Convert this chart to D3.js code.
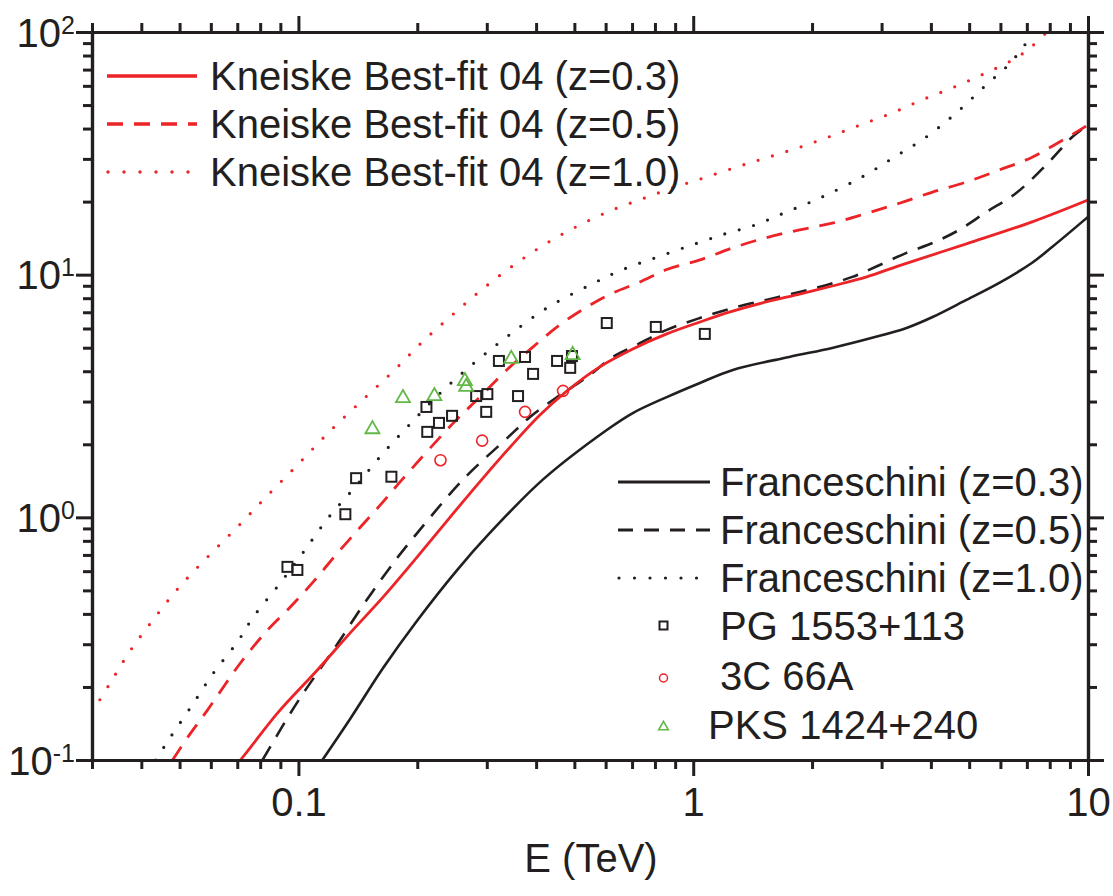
<!DOCTYPE html>
<html>
<head>
<meta charset="utf-8">
<script src="https://cdn.jsdelivr.net/npm/d3@7"></script>
<style>
body { margin: 0; background: #fff; }
text { font-family: "Liberation Sans", Arial, sans-serif; fill: #231f20; }
</style>
</head>
<body>
<div id="chart"></div>
<script>
// curves: [E (TeV), value]
var kneiske03 = [[0.0713,0.100],[0.0757,0.113],[0.0885,0.156],[0.1117,0.235],[0.1353,0.334],[0.164,0.470],[0.200,0.687],[0.242,1.00],[0.288,1.40],[0.344,1.95],[0.409,2.64],[0.479,3.32],[0.580,4.17],[0.703,4.94],[0.857,5.70],[1.04,6.38],[1.24,7.02],[1.53,7.72],[1.86,8.32],[2.25,8.98],[2.75,9.79],[3.33,10.9],[4.92,13.4],[7.22,16.5],[10,20.3]];
var kneiske05 = [[0.0480,0.100],[0.0524,0.124],[0.0589,0.161],[0.0713,0.251],[0.0835,0.343],[0.0955,0.428],[0.109,0.542],[0.1256,0.713],[0.1436,0.912],[0.164,1.16],[0.183,1.43],[0.247,2.45],[0.288,3.13],[0.337,4.05],[0.393,5.04],[0.459,6.21],[0.538,7.36],[0.626,8.41],[0.733,9.33],[0.857,10.5],[1.04,11.5],[1.26,12.9],[1.53,14.2],[1.86,15.3],[2.25,16.3],[2.75,17.9],[3.33,19.7],[4.04,21.9],[4.92,24.1],[5.96,27.0],[7.22,30.5],[10,41.4]];
var kneiske10 = [[0.030,0.157],[0.0335,0.210],[0.0376,0.284],[0.0430,0.381],[0.0497,0.512],[0.0589,0.687],[0.0705,0.922],[0.0839,1.24],[0.100,1.66],[0.119,2.23],[0.1436,2.99],[0.173,3.97],[0.206,5.28],[0.247,6.89],[0.297,8.90],[0.358,11.2],[0.426,13.5],[0.511,15.9],[0.615,18.3],[0.741,20.5],[0.887,22.8],[1.06,25.0],[1.29,27.8],[1.53,30.3],[1.84,33.3],[2.20,36.9],[2.65,41.4],[3.18,46.3],[3.80,52.5],[4.58,59.3],[5.50,67.7],[6.58,78.2],[7.22,87.5],[7.87,100]];
var frances03 = [[0.1150,0.100],[0.1353,0.148],[0.164,0.240],[0.200,0.376],[0.252,0.605],[0.305,0.860],[0.416,1.43],[0.604,2.29],[0.703,2.69],[0.857,3.13],[1.04,3.58],[1.26,4.05],[1.75,4.58],[2.25,4.99],[2.84,5.49],[3.47,6.03],[4.04,6.69],[4.92,7.87],[5.96,9.25],[7.22,11.2],[8.11,13.0],[10,17.3]];
var frances05 = [[0.0811,0.100],[0.0938,0.149],[0.103,0.189],[0.1226,0.284],[0.149,0.457],[0.178,0.681],[0.203,0.888],[0.261,1.43],[0.340,2.14],[0.386,2.59],[0.452,3.13],[0.538,3.78],[0.626,4.58],[0.703,5.04],[0.857,5.92],[1.04,6.63],[1.26,7.29],[1.53,7.87],[1.86,8.49],[2.18,9.07],[2.53,9.79],[2.91,10.8],[3.47,12.3],[4.04,13.5],[4.72,15.3],[5.52,18.1],[6.58,21.7],[7.96,29.1],[9.12,36.9],[10,41.4]];
var frances10 = [[0.0435,0.100],[0.0469,0.121],[0.0539,0.169],[0.0610,0.229],[0.0701,0.307],[0.0769,0.389],[0.0900,0.537],[0.103,0.720],[0.119,0.995],[0.139,1.33],[0.164,1.84],[0.193,2.45],[0.229,3.26],[0.275,4.25],[0.337,5.54],[0.426,7.29],[0.548,9.07],[0.663,10.5],[0.809,11.8],[0.998,13.3],[1.20,14.7],[1.43,16.0],[1.72,18.1],[2.12,20.9],[2.68,25.3],[3.23,30.5],[3.89,36.9],[4.63,46.3],[5.52,60.5],[6.39,75.2],[7.30,100]];

// data points: [E (TeV), value]
var pg1553 = [[0.0938,0.625],[0.0994,0.607],[0.1315,1.03],[0.140,1.45],[0.172,1.47],[0.211,2.85],[0.212,2.25],[0.227,2.45],[0.245,2.62],[0.282,3.16],[0.301,3.22],[0.299,2.72],[0.322,4.41],[0.375,4.58],[0.393,3.90],[0.360,3.16],[0.452,4.41],[0.488,4.13],[0.493,4.62],[0.604,6.32],[0.804,6.09],[1.07,5.70]];
var c66a = [[0.229,1.72],[0.292,2.07],[0.375,2.72],[0.468,3.32]];
var pks1424 = [[0.154,2.33],[0.184,3.13],[0.221,3.19],[0.264,3.68],[0.266,3.48],[0.346,4.54],[0.495,4.71]];

var xMajor = [0.1, 1, 10];
var xMinor = [0.03,0.04,0.05,0.06,0.07,0.08,0.09,0.2,0.3,0.4,0.5,0.6,0.7,0.8,0.9,2,3,4,5,6,7,8,9];
var xTickLabels = ["0.1", "1", "10"];
var yMajor = [0.1, 1, 10, 100];
var yMinor = [0.2,0.3,0.4,0.5,0.6,0.7,0.8,0.9,2,3,4,5,6,7,8,9,20,30,40,50,60,70,80,90];
var yTickExp = ["-1", "0", "1", "2"];

var RED = "#ec2327", BLACK = "#231f20", GREEN = "#62b846";

var width = 1113, height = 896;
var margin = { top: 32, right: 25, bottom: 136, left: 92 };

var svg = d3.select("#chart").append("svg")
	.attr("width", width)
	.attr("height", height);

var xScale = d3.scaleLog().domain([0.03, 10]).range([margin.left, width - margin.right]);
var yScale = d3.scaleLog().domain([0.1, 100]).range([height - margin.bottom, margin.top]);

svg.append("clipPath").attr("id", "plotClip")
	.append("rect")
	.attr("x", margin.left)
	.attr("y", margin.top)
	.attr("width", width - margin.left - margin.right)
	.attr("height", height - margin.top - margin.bottom);

var line = d3.line()
	.x(function (d) { return xScale(d[0]); })
	.y(function (d) { return yScale(d[1]); })
	.curve(d3.curveCatmullRom.alpha(0.5));

var curves = [
	{ data: frances03, color: BLACK, w: 2.6, dash: null },
	{ data: frances05, color: BLACK, w: 2.6, dash: "16,11" },
	{ data: frances10, color: BLACK, w: 3.2, dash: "0,15" },
	{ data: kneiske03, color: RED, w: 2.8, dash: null },
	{ data: kneiske05, color: RED, w: 2.8, dash: "16,11" },
	{ data: kneiske10, color: RED, w: 3.2, dash: "0,15" }
];

var plot = svg.append("g").attr("clip-path", "url(#plotClip)");

curves.forEach(function (c) {
	plot.append("path")
		.datum(c.data)
		.attr("d", line)
		.style("fill", "none")
		.style("stroke", c.color)
		.style("stroke-width", c.w)
		.style("stroke-linecap", c.dash === "0,15" ? "round" : "butt")
		.style("stroke-dasharray", c.dash);
});

// markers
var tri = d3.symbol().type(d3.symbolTriangle);

plot.selectAll(".pg")
	.data(pg1553)
	.enter()
	.append("rect")
	.attr("class", "pg")
	.attr("x", function (d) { return xScale(d[0]) - 5; })
	.attr("y", function (d) { return yScale(d[1]) - 5; })
	.attr("width", 10)
	.attr("height", 10)
	.style("fill", "none")
	.style("stroke", BLACK)
	.style("stroke-width", 2);

plot.selectAll(".c66")
	.data(c66a)
	.enter()
	.append("circle")
	.attr("class", "c66")
	.attr("cx", function (d) { return xScale(d[0]); })
	.attr("cy", function (d) { return yScale(d[1]); })
	.attr("r", 5.5)
	.style("fill", "none")
	.style("stroke", RED)
	.style("stroke-width", 1.6);

plot.selectAll(".pks")
	.data(pks1424)
	.enter()
	.append("path")
	.attr("class", "pks")
	.attr("d", tri.size(85))
	.attr("transform", function (d) {
		return "translate(" + xScale(d[0]) + "," + (yScale(d[1]) + 1) + ")";
	})
	.style("fill", "none")
	.style("stroke", GREEN)
	.style("stroke-width", 1.8);

// axes
var bottomY = height - margin.bottom;
var rightX = width - margin.right;

function styleAxis(g) {
	g.select(".domain").style("stroke", BLACK).style("stroke-width", 3.2);
	g.selectAll(".tick line").style("stroke", BLACK).style("stroke-width", 3);
}

function addAxis(axis, tx, ty, values, size, labels) {
	var g = svg.append("g")
		.attr("transform", "translate(" + tx + "," + ty + ")")
		.call(axis.tickValues(values).tickSize(size).tickSizeOuter(0));
	styleAxis(g);
	if (!labels) g.selectAll(".tick text").remove();
	return g;
}

addAxis(d3.axisBottom(xScale), 0, bottomY, xMinor, 9, false);
var gx = addAxis(
	d3.axisBottom(xScale).tickPadding(12).tickFormat(function (d, i) { return xTickLabels[i]; }),
	0, bottomY, xMajor, 16, true);
gx.selectAll(".tick text")
	.style("font-size", "40px")
	.style("font-family", "'Liberation Sans', Arial, sans-serif")
	.attr("fill", BLACK);

addAxis(d3.axisTop(xScale), 0, margin.top, xMinor, 9, false);
addAxis(d3.axisTop(xScale), 0, margin.top, xMajor, 16, false);

addAxis(d3.axisLeft(yScale), margin.left, 0, yMinor, 9, false);
var gy = addAxis(d3.axisLeft(yScale), margin.left, 0, yMajor, 16, true);
gy.selectAll(".tick text").remove();
gy.selectAll(".tick").each(function (d, i) {
	var t = d3.select(this).append("text")
		.attr("x", -17)
		.attr("y", 14)
		.style("text-anchor", "end")
		.style("font-size", "40px");
	t.append("tspan").text("10");
	t.append("tspan")
		.attr("dy", -13)
		.style("font-size", "25px")
		.text(yTickExp[i]);
});

addAxis(d3.axisRight(yScale), rightX, 0, yMinor, 9, false);
addAxis(d3.axisRight(yScale), rightX, 0, yMajor, 16, false);

svg.append("text")
	.attr("x", 591)
	.attr("y", 872)
	.style("text-anchor", "middle")
	.style("font-size", "40px")
	.text("E (TeV)");

// legends
var legendLines = [
	{ label: "Kneiske Best-fit 04 (z=0.3)", color: RED, dash: null, x1: 107, x2: 197, y: 76, tx: 210, w: 3.4 },
	{ label: "Kneiske Best-fit 04 (z=0.5)", color: RED, dash: "16,11", x1: 107, x2: 197, y: 124, tx: 210, w: 3.4 },
	{ label: "Kneiske Best-fit 04 (z=1.0)", color: RED, dash: "0,16", x1: 108, x2: 197, y: 172, tx: 210, w: 3.4 },
	{ label: "Franceschini (z=0.3)", color: BLACK, dash: null, x1: 618, x2: 710, y: 482, tx: 720, w: 2.8 },
	{ label: "Franceschini (z=0.5)", color: BLACK, dash: "15,11", x1: 618, x2: 710, y: 530, tx: 720, w: 2.8 },
	{ label: "Franceschini (z=1.0)", color: BLACK, dash: "0,15.5", x1: 619, x2: 710, y: 578, tx: 720, w: 3.2 }
];

legendLines.forEach(function (l) {
	svg.append("line")
		.attr("x1", l.x1).attr("x2", l.x2)
		.attr("y1", l.y).attr("y2", l.y)
		.style("stroke", l.color)
		.style("stroke-width", l.w)
		.style("stroke-linecap", l.dash && l.dash.indexOf("0,") === 0 ? "round" : "butt")
		.style("stroke-dasharray", l.dash);
	svg.append("text")
		.attr("x", l.tx)
		.attr("y", l.y + 14)
		.style("font-size", "40px")
		.text(l.label);
});

var lg = svg.append("g");
lg.append("rect")
	.attr("x", 659.5).attr("y", 621.5).attr("width", 8).attr("height", 8)
	.style("fill", "none").style("stroke", BLACK).style("stroke-width", 2);
lg.append("text").attr("x", 720).attr("y", 640).style("font-size", "40px").text("PG 1553+113");
lg.append("circle")
	.attr("cx", 663.5).attr("cy", 678).attr("r", 4)
	.style("fill", "none").style("stroke", RED).style("stroke-width", 1.5);
lg.append("text").attr("x", 720).attr("y", 690).style("font-size", "40px").text("3C 66A");
lg.append("path")
	.attr("d", tri.size(40))
	.attr("transform", "translate(663.5,727)")
	.style("fill", "none").style("stroke", GREEN).style("stroke-width", 1.6);
lg.append("text").attr("x", 708).attr("y", 739).style("font-size", "40px").text("PKS 1424+240");
</script>
</body>
</html>
